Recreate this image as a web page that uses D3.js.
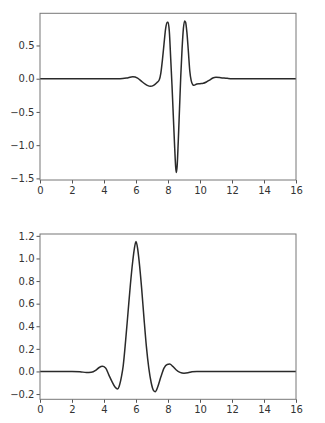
<!DOCTYPE html>
<html><head><meta charset="utf-8">
<script src="https://cdn.jsdelivr.net/npm/d3@7"></script>
<style>
html,body{margin:0;padding:0;background:#fff;}
svg{display:block;}
</style></head>
<body>
<svg id="c" width="325" height="423"></svg>
<script>
// Top panel: wavelet function (x, value)
const psiX = [0, 4.5, 5.0, 5.4, 5.8, 6.1, 6.4, 6.7, 6.9, 7.1, 7.3, 7.45, 7.55, 7.65, 7.75, 7.85, 7.95, 8.0, 8.08, 8.17, 8.25, 8.33, 8.42, 8.48, 8.52, 8.57, 8.64, 8.72, 8.8, 8.88, 8.96, 9.04, 9.1, 9.18, 9.27, 9.36, 9.45, 9.55, 9.62, 9.8, 10.0, 10.2, 10.4, 10.6, 10.8, 11.0, 11.3, 11.7, 12.0, 16];
const psiY = [0, 0, 0.0, 0.01, 0.03, 0.01, -0.05, -0.10, -0.115, -0.10, -0.06, -0.02, 0.08, 0.28, 0.52, 0.75, 0.85, 0.85, 0.72, 0.30, -0.10, -0.55, -1.05, -1.33, -1.41, -1.32, -0.95, -0.45, 0.05, 0.45, 0.75, 0.87, 0.85, 0.70, 0.42, 0.12, -0.03, -0.09, -0.10, -0.08, -0.075, -0.07, -0.05, -0.02, 0.01, 0.02, 0.015, 0.005, 0, 0];

// Bottom panel: scaling function (x, value)
const phiX = [0, 2.0, 2.5, 2.9, 3.2, 3.5, 3.7, 3.9, 4.1, 4.3, 4.5, 4.7, 4.85, 4.95, 5.1, 5.2, 5.35, 5.5, 5.65, 5.8, 5.9, 6.0, 6.1, 6.2, 6.35, 6.5, 6.65, 6.8, 6.95, 7.1, 7.2, 7.35, 7.55, 7.75, 7.95, 8.1, 8.3, 8.5, 8.75, 9.0, 9.25, 9.5, 9.8, 16];
const phiY = [0, 0, -0.002, -0.01, -0.008, 0.012, 0.035, 0.045, 0.03, -0.03, -0.09, -0.14, -0.155, -0.13, -0.04, 0.05, 0.27, 0.52, 0.77, 0.98, 1.09, 1.15, 1.09, 0.97, 0.74, 0.47, 0.22, 0.03, -0.10, -0.17, -0.18, -0.14, -0.05, 0.03, 0.062, 0.065, 0.045, 0.015, -0.008, -0.015, -0.012, -0.003, 0, 0];

const xTicks = [0, 2, 4, 6, 8, 10, 12, 14, 16];
const topYTicks = [0.5, 0.0, -0.5, -1.0, -1.5];
const botYTicks = [1.2, 1.0, 0.8, 0.6, 0.4, 0.2, 0.0, -0.2];

const svg = d3.select("#c");
const fontFam = "'DejaVu Sans', sans-serif";

function panel(xs, ys, yTicks, box) {
  const lo = d3.min(ys), hi = d3.max(ys), r = hi - lo;
  const x = d3.scaleLinear().domain([0, 16]).range([box.l, box.r]);
  const y = d3.scaleLinear().domain([lo - 0.05 * r, hi + 0.05 * r]).range([box.b, box.t]);
  const g = svg.append("g");
  const pts = xs.map((d, i) => [d, ys[i]]);
  g.append("path")
    .attr("d", d3.line().x(d => x(d[0])).y(d => y(d[1])).curve(d3.curveMonotoneX)(pts))
    .attr("fill", "none").attr("stroke", "#2a2a2a").attr("stroke-width", 1.5)
    .attr("stroke-linejoin", "round");
  const xa = g.append("g").attr("transform", `translate(0,${box.b})`)
    .call(d3.axisBottom(x).tickValues(xTicks).tickFormat(d3.format("d")).tickSize(3.5).tickSizeOuter(0));
  const ya = g.append("g").attr("transform", `translate(${box.l},0)`)
    .call(d3.axisLeft(y).tickValues(yTicks).tickFormat(d3.format(".1f")).tickSize(3.5).tickSizeOuter(0));
  [xa, ya].forEach(a => {
    a.select(".domain").remove();
    a.selectAll("line").attr("stroke", "#555");
    a.selectAll("text").attr("fill", "#333").style("font-family", fontFam).style("font-size", "10px");
  });
  xa.selectAll("text").attr("dy", "0.71em").attr("y", 6.5);
  ya.selectAll("text").attr("x", -5.5);
  g.append("rect").attr("x", box.l).attr("y", box.t)
    .attr("width", box.r - box.l).attr("height", box.b - box.t)
    .attr("fill", "none").attr("stroke", "#777").attr("stroke-width", 1);
}

panel(psiX, psiY, topYTicks, {l: 40, r: 296, t: 13.3, b: 180});
panel(phiX, phiY, botYTicks, {l: 40, r: 296, t: 234, b: 399.3});
</script>
</body></html>
